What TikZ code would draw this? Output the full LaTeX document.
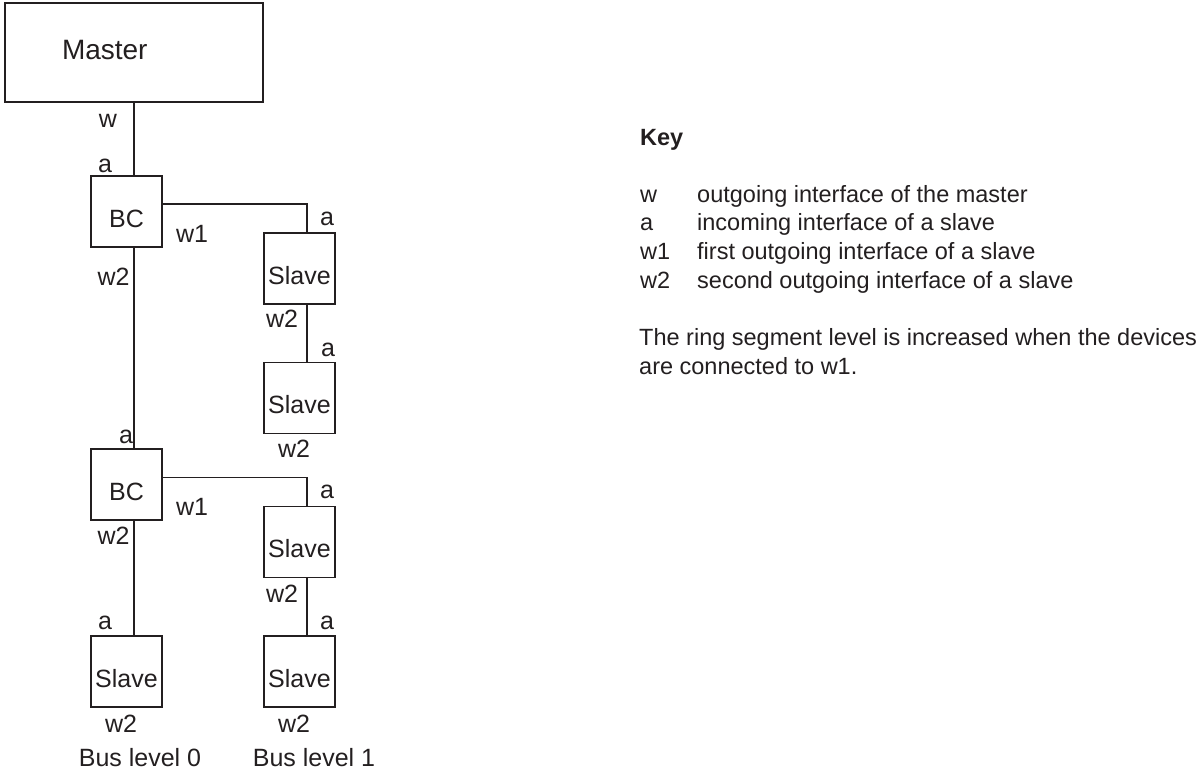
\documentclass[tikz,border=0pt]{standalone}
\usepackage{fontspec}
\setmainfont{Liberation Sans}
\definecolor{ink}{HTML}{231F20}
\tikzset{
  unit/.style={draw=ink, line width=1.1pt, minimum width=71pt, minimum height=71pt,
    inner sep=0pt, text height=31pt, text depth=0pt, text=ink,
    font=\fontsize{25}{30}\selectfont},
  port/.style={anchor=base, inner sep=0pt, text=ink, font=\fontsize{25}{30}\selectfont},
  bus/.style={draw=ink, line width=1.1pt},
  keytext/.style={anchor=base west, inner sep=0pt, text=ink, font=\fontsize{23.5}{28.7}\selectfont}
}
\begin{document}
\begin{tikzpicture}[x=1pt,y=-1pt]
\useasboundingbox (0,0) rectangle (1201,771);
% boxes
\node[draw=ink, line width=1.1pt, minimum width=258pt, minimum height=99pt, inner sep=0pt,
  text width=144pt, align=left, text height=13pt, text depth=0pt, text=ink,
  font=\fontsize{28}{34}\selectfont] (master) at (134,52.5) {Master};
\node[unit] (bc1) at (126.5,211.5) {BC};
\node[unit] (slave1) at (299.5,268.5) {Slave};
\node[unit] (slave2) at (299.5,398) {Slave};
\node[unit] (bc2) at (126.5,484.5) {BC};
\node[unit] (slave3) at (299.5,542) {Slave};
\node[unit] (slave4) at (299.5,671.5) {Slave};
\node[unit] (slave5) at (126.5,671.5) {Slave};
% ring segments
\draw[bus] ([xshift=7.5pt]bc1.north) -- ([xshift=7.5pt]bc1.north |- master.south);
\draw[bus] ([yshift=7.5pt]bc1.east) -| ([xshift=7.5pt]slave1.north);
\draw[bus] ([xshift=7.5pt]slave1.south) -- ([xshift=7.5pt]slave2.north);
\draw[bus] ([xshift=7.5pt]bc1.south) -- ([xshift=7.5pt]bc2.north);
\draw[bus] ([yshift=7pt]bc2.east) -| ([xshift=7.5pt]slave3.north);
\draw[bus] ([xshift=7.5pt]slave3.south) -- ([xshift=7.5pt]slave4.north);
\draw[bus] ([xshift=7.5pt]bc2.south) -- ([xshift=7.5pt]slave5.north);
% interface labels
\node[port] (mw) at (108,127) {w};
\node[port] (bc1a) at (105,172) {a};
\node[port] (bc1w1) at (192,242) {w1};
\node[port] (s1a) at (327,225) {a};
\node[port] (bc1w2) at (113.5,285) {w2};
\node[port] (s1w2) at (282,327) {w2};
\node[port] (s2a) at (328,356) {a};
\node[port] (s2w2) at (294,457) {w2};
\node[port] (bc2a) at (126,443) {a};
\node[port] (s3a) at (327,498) {a};
\node[port] (bc2w1) at (192,515) {w1};
\node[port] (bc2w2) at (113.5,544) {w2};
\node[port] (s3w2) at (282,602) {w2};
\node[port] (s4a) at (327,629) {a};
\node[port] (s5a) at (105,629) {a};
\node[port] (s5w2) at (121,732) {w2};
\node[port] (s4w2) at (294,732) {w2};
\node[port] (lvl0) at (140,766) {Bus level 0};
\node[port] (lvl1) at (314,766) {Bus level 1};
% key
\node[keytext, font=\fontsize{23.5}{28.7}\selectfont\bfseries] (key) at (640,145) {Key};
\node[keytext] (kw) at (640,202) {w};
\node[keytext] (kwd) at (697,202) {outgoing interface of the master};
\node[keytext] (ka) at (640,230) {a};
\node[keytext] (kad) at (697,230) {incoming interface of a slave};
\node[keytext] (kw1) at (640,259) {w1};
\node[keytext] (kw1d) at (697,259) {first outgoing interface of a slave};
\node[keytext] (kw2) at (640,288) {w2};
\node[keytext] (kw2d) at (697,288) {second outgoing interface of a slave};
% base of the note is its last line
\node[keytext, align=left] (note) at (639,374)
  {The ring segment level is increased when the devices\\are connected to w1.};
\end{tikzpicture}
\end{document}
